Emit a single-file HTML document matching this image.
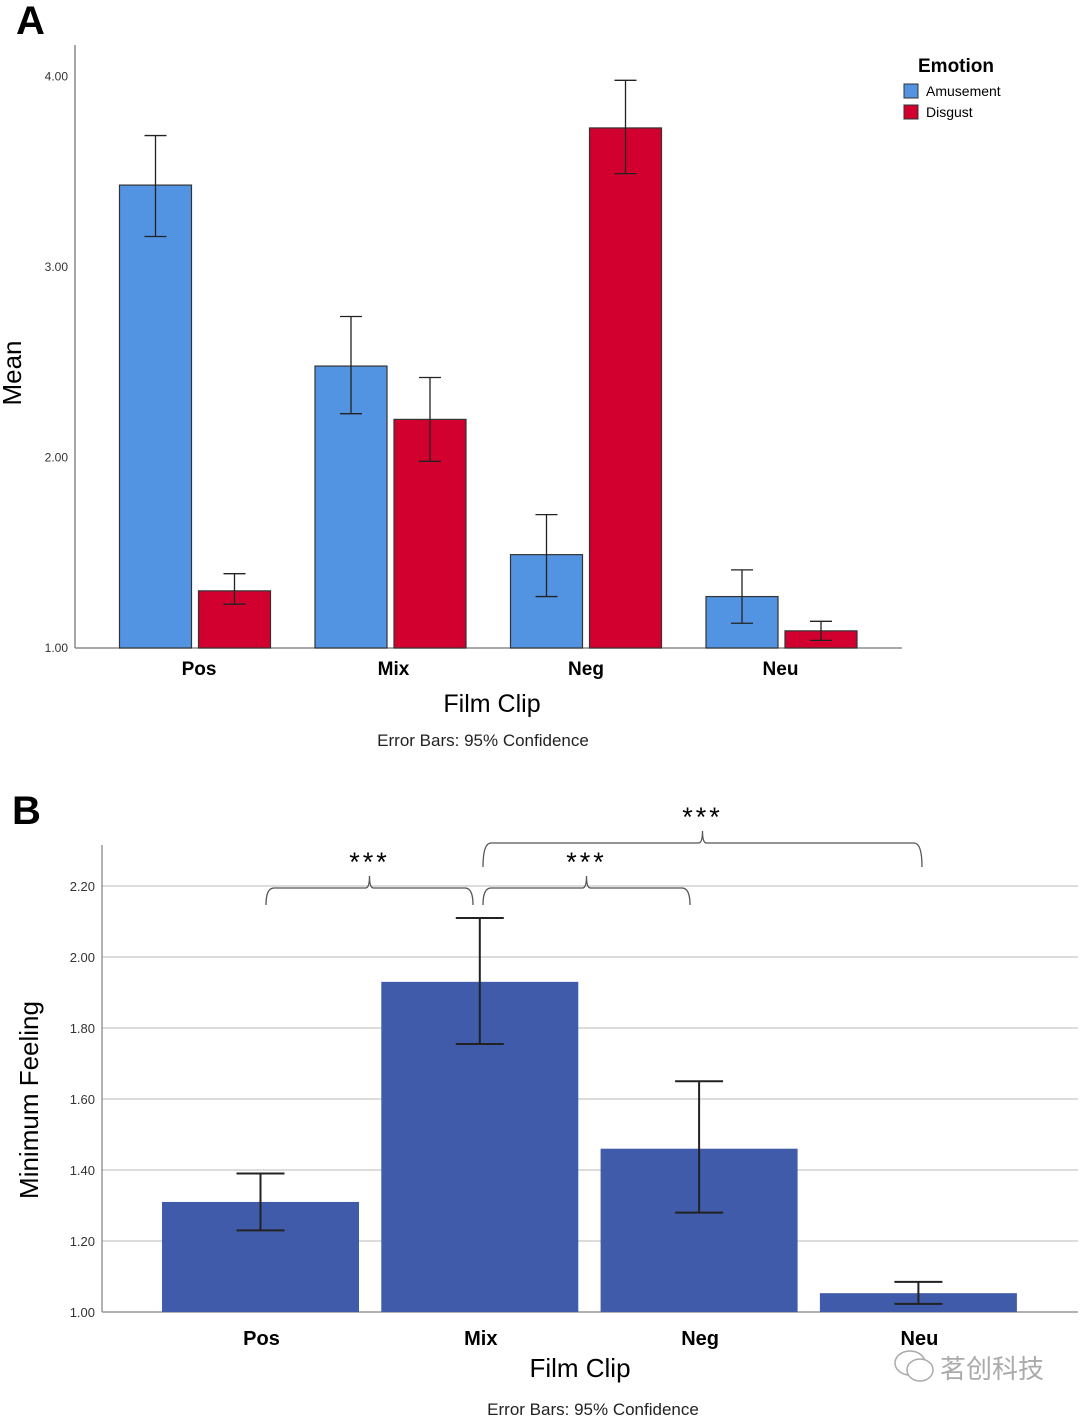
<!DOCTYPE html>
<html><head><meta charset="utf-8"><style>
html,body{margin:0;padding:0;background:#fff;}
svg{display:block;font-family:"Liberation Sans","Noto Sans CJK SC",sans-serif;}
</style></head><body>
<svg id="svg" width="1080" height="1417" viewBox="0 0 1080 1417">
<g id="A"></g>
<g id="B"></g>
</svg>
<script>
const catsA=["Pos","Mix","Neg","Neu"];
const amuse=[3.43,2.48,1.49,1.27];
const amuseLo=[3.16,2.23,1.27,1.13];
const amuseHi=[3.69,2.74,1.70,1.41];
const disg=[1.30,2.20,3.73,1.09];
const disgLo=[1.23,1.98,3.49,1.04];
const disgHi=[1.39,2.42,3.98,1.14];
const ticksA=["1.00","2.00","3.00","4.00"];
const catsB=["Pos","Mix","Neg","Neu"];
const minFeel=[1.31,1.93,1.46,1.053];
const minLo=[1.23,1.755,1.28,1.023];
const minHi=[1.39,2.11,1.65,1.085];
const ticksB=["1.00","1.20","1.40","1.60","1.80","2.00","2.20"];

const NS="http://www.w3.org/2000/svg";
function mk(p,t,a,txt){const e=document.createElementNS(NS,t);for(const k in a)e.setAttribute(k,a[k]);if(txt!=null)e.textContent=txt;p.appendChild(e);return e;}
const A=document.getElementById('A'),B=document.getElementById('B');

// Panel A
const yA=v=>648-(v-1)*190.5;
const xA=i=>195+i*195.5;
const labOffA=[4,3,0,-1];
let e;
e=mk(A,'text',{x:16,y:34,'font-size':40,'font-weight':'bold'},'A');

e=mk(A,'line',{x1:75,y1:45,x2:75,y2:648,stroke:'#777','stroke-width':1.3});

e=mk(A,'line',{x1:75,y1:648,x2:902,y2:648,stroke:'#777','stroke-width':1.3});

ticksA.forEach(t=>{e=mk(A,'text',{x:68,y:yA(+t)+4,'font-size':12,'text-anchor':'end',fill:'#333'},t);
});
function errbar(g,x,lo,hi,yf,w,sw){
 e=mk(g,'path',{d:`M${x-w/2},${yf(hi)}H${x+w/2}M${x},${yf(hi)}V${yf(lo)}M${x-w/2},${yf(lo)}H${x+w/2}`,stroke:'#222','stroke-width':sw,fill:'none'});
 
}
catsA.forEach((c,i)=>{
 const cx=xA(i);
 e=mk(A,'rect',{x:cx-75.5,y:yA(amuse[i]),width:72,height:648-yA(amuse[i]),fill:'#5294e2',stroke:'#333','stroke-width':1.2});
 
 e=mk(A,'rect',{x:cx+3.5,y:yA(disg[i]),width:72,height:648-yA(disg[i]),fill:'#d2002e',stroke:'#333','stroke-width':1.2});
 
 errbar(A,cx-39.5,amuseLo[i],amuseHi[i],yA,22,1.3);
 errbar(A,cx+39.5,disgLo[i],disgHi[i],yA,22,1.3);
 e=mk(A,'text',{x:cx+labOffA[i],y:675,'font-size':19,'font-weight':'bold','text-anchor':'middle'},c);
 
});
e=mk(A,'text',{x:492,y:712,'font-size':25,'text-anchor':'middle'},'Film Clip');

e=mk(A,'text',{x:483,y:746,'font-size':17,'text-anchor':'middle',fill:'#222'},'Error Bars: 95% Confidence');

e=mk(A,'text',{x:0,y:0,'font-size':26,'text-anchor':'middle',transform:'translate(21,373) rotate(-90)'},'Mean');

e=mk(A,'text',{x:918,y:72,'font-size':19,'font-weight':'bold'},'Emotion');

[['Amusement','#5294e2',84],['Disgust','#d2002e',105]].forEach(([n,c,y])=>{
 e=mk(A,'rect',{x:904,y:y,width:14,height:14,fill:c,stroke:'#333','stroke-width':1});
 
 e=mk(A,'text',{x:926,y:y+12,'font-size':14},n);
 
});

// Panel B
const yB=v=>1312-(v-1)*355;
const xB=i=>260.5+i*219.3;
e=mk(B,'text',{x:12,y:824,'font-size':40,'font-weight':'bold'},'B');

ticksB.forEach(t=>{
 if(+t>1){e=mk(B,'line',{x1:102,y1:yB(+t),x2:1078,y2:yB(+t),stroke:'#c8c8c8','stroke-width':1.3});
 }
 e=mk(B,'text',{x:95,y:yB(+t)+5,'font-size':13,'text-anchor':'end',fill:'#333'},t);
 
});
e=mk(B,'line',{x1:102,y1:845,x2:102,y2:1312,stroke:'#888','stroke-width':1.3});

e=mk(B,'line',{x1:102,y1:1312,x2:1078,y2:1312,stroke:'#999','stroke-width':1.5});

catsB.forEach((c,i)=>{
 const cx=xB(i);
 e=mk(B,'rect',{x:cx-98.5,y:yB(minFeel[i]),width:197,height:1312-yB(minFeel[i]),fill:'#3f5ba9'});
 
 errbar(B,cx,minLo[i],minHi[i],yB,48,2);
 e=mk(B,'text',{x:cx+1,y:1345,'font-size':20,'font-weight':'bold','text-anchor':'middle'},c);
 
});
function brace(x1,x2,y,h,name){
 const m=(x1+x2)/2;
 e=mk(B,'path',{d:`M${x1},${y+h}Q${x1},${y} ${x1+8},${y}H${m-4}Q${m},${y} ${m},${y-12}Q${m},${y} ${m+4},${y}H${x2-8}Q${x2},${y} ${x2},${y+h}`,stroke:'#555','stroke-width':1.3,fill:'none'});
 
 e=mk(B,'text',{x:m,y:y-17,'font-size':27,'text-anchor':'middle','letter-spacing':3},'***');
 
}
brace(266,473,888,17,'bracket-pos-mix');
brace(483,690,888,17,'bracket-mix-neg');
brace(483,922,843,24,'bracket-mix-neu');
e=mk(B,'text',{x:580,y:1377,'font-size':26,'text-anchor':'middle'},'Film Clip');

e=mk(B,'text',{x:593,y:1415,'font-size':17,'text-anchor':'middle',fill:'#222'},'Error Bars: 95% Confidence');

e=mk(B,'text',{x:0,y:0,'font-size':26,'text-anchor':'middle',transform:'translate(38,1100) rotate(-90)'},'Minimum Feeling');

e=mk(B,'text',{x:940,y:1378,'font-size':26,fill:'#aaa'},'茗创科技');

e=mk(B,'g',{fill:'none',stroke:'#aaa','stroke-width':1.5});

mk(e,'ellipse',{cx:910,cy:1363,rx:15,ry:12});
mk(e,'ellipse',{cx:920,cy:1370,rx:13,ry:11,fill:'#fff'});
</script>
</body></html>
